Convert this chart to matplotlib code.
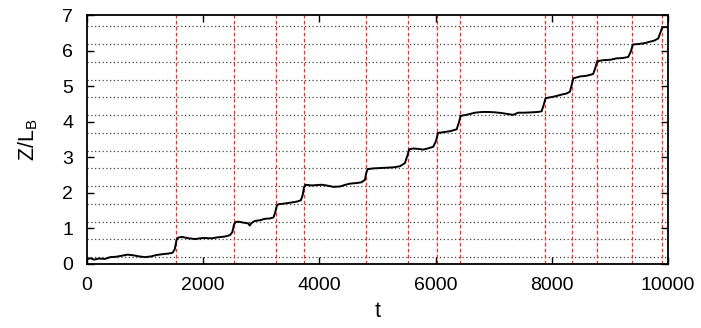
import numpy as np
import matplotlib
matplotlib.use("Agg")
import matplotlib.pyplot as plt

plt.rcParams['font.family'] = ['Liberation Sans', 'DejaVu Sans']
plt.rcParams['mathtext.fontset'] = 'custom'
plt.rcParams['mathtext.rm'] = 'Liberation Sans'
plt.rcParams['mathtext.it'] = 'Liberation Sans'

# curve
t = [0, 60, 120, 200, 310, 400, 500, 600, 700, 800, 900, 1000, 1100, 1200, 1285,
     1400, 1470, 1510, 1540, 1570, 1630, 1750, 1860, 2000, 2145, 2260, 2375, 2460,
     2500, 2530, 2560, 2603, 2700, 2775, 2800, 2830, 2890, 2980, 3063, 3150, 3210,
     3240, 3265, 3290, 3350, 3440, 3522, 3600, 3680, 3710, 3735, 3760, 3866, 3950,
     4038, 4120, 4238, 4353, 4450, 4525, 4650, 4726, 4783, 4805, 4830, 4926, 5040,
     5156, 5270, 5385, 5471, 5515, 5545, 5614, 5700, 5786, 5880, 5958, 6005, 6040,
     6131, 6250, 6361, 6395, 6430, 6533, 6676, 6800, 6905, 7020, 7135, 7250, 7335,
     7421, 7530, 7651, 7760, 7823, 7855, 7892, 7995, 8080, 8168, 8250, 8310, 8335,
     8370, 8482, 8597, 8711, 8745, 8780, 8883, 9000, 9113, 9220, 9314, 9360, 9392,
     9515, 9600, 9686, 9760, 9830, 9865, 9900, 10000]
z = [0.12, 0.15, 0.11, 0.14, 0.13, 0.18, 0.19, 0.22, 0.25, 0.23, 0.20, 0.18, 0.20,
     0.24, 0.26, 0.28, 0.30, 0.40, 0.66, 0.73, 0.75, 0.71, 0.69, 0.72, 0.71, 0.74,
     0.76, 0.80, 0.88, 1.10, 1.17, 1.18, 1.15, 1.13, 1.07, 1.14, 1.20, 1.22, 1.26,
     1.27, 1.30, 1.45, 1.62, 1.67, 1.68, 1.70, 1.72, 1.74, 1.78, 1.92, 2.15, 2.22,
     2.20, 2.21, 2.22, 2.20, 2.16, 2.17, 2.22, 2.25, 2.27, 2.29, 2.36, 2.55, 2.66,
     2.68, 2.69, 2.70, 2.71, 2.74, 2.83, 3.05, 3.22, 3.24, 3.23, 3.21, 3.25, 3.29,
     3.45, 3.68, 3.70, 3.73, 3.78, 3.95, 4.16, 4.19, 4.25, 4.27, 4.27, 4.26, 4.24,
     4.21, 4.19, 4.25, 4.25, 4.26, 4.27, 4.29, 4.45, 4.66, 4.69, 4.72, 4.76, 4.79,
     4.84, 5.00, 5.22, 5.27, 5.29, 5.34, 5.50, 5.70, 5.73, 5.74, 5.78, 5.79, 5.82,
     5.98, 6.17, 6.19, 6.21, 6.25, 6.28, 6.34, 6.50, 6.66, 6.66]

# jump times (red dashed) and plateau levels (dotted)
jumps = [1526, 2529, 3257, 3734, 4806, 5518, 6022, 6418, 7875, 8350, 8770, 9377, 9888]
levels = [0.18, 0.68, 1.18, 1.68, 2.18, 2.68, 3.18, 3.68, 4.18, 4.68, 5.18, 5.68, 6.18, 6.68]

fig = plt.figure(figsize=(7.01, 3.28), dpi=100)
ax = fig.add_axes([0.1241, 0.1966, 0.829, 0.7574])

for lv in levels:
    ax.axhline(lv, color='0.25', lw=0.9, linestyle=(0, (1, 2)), zorder=1)
for tj in jumps:
    ax.axvline(tj, color='#ff2a2a', lw=0.9, linestyle=(0, (3, 1.8)), zorder=1)

ax.plot(t, z, color='black', lw=1.4, zorder=3)

ax.set_xlim(0, 10000)
ax.set_ylim(0, 7)
ax.set_xticks([0, 2000, 4000, 6000, 8000, 10000])
ax.set_yticks(range(0, 8))
ax.tick_params(direction='in', length=5, width=1, top=True, right=True,
               labelsize=14, colors='black')
ax.tick_params(axis='x', pad=10)
ax.tick_params(axis='y', pad=10)
for s in ax.spines.values():
    s.set_linewidth(1.3)

ax.set_xlabel('t', fontsize=15.5, labelpad=5)
ax.set_ylabel('Z/L$_{\\mathrm{B}}$', fontsize=15.5, labelpad=16)

fig.savefig('out.png', dpi=100)
